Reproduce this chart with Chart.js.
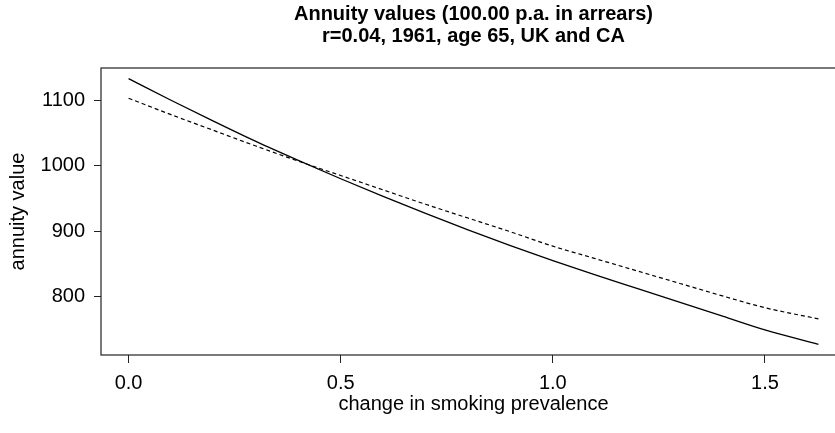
<!DOCTYPE html>
<html>
<head>
<meta charset="utf-8">
<script src="https://cdn.jsdelivr.net/npm/chart.js@4/dist/chart.umd.min.js"></script>
<style>
  html, body { margin: 0; padding: 0; background: #fff; overflow: hidden; width: 835px; height: 433px; }
  #wrap { width: 850px; height: 433px; }
</style>
</head>
<body>
<div id="wrap"><canvas id="c" width="850" height="433"></canvas></div>
<script>
// Change in smoking prevalence (x) and annuity values for the two populations
const prevalence = [0, 0.1, 0.2, 0.3, 0.4, 0.5, 0.6, 0.7, 0.8, 0.9, 1.0, 1.1, 1.2, 1.3, 1.4, 1.5, 1.626];
const annuityUK  = [1133, 1100, 1068, 1037, 1008, 980, 953, 927, 902, 878, 855, 833, 812, 791, 770, 749, 727];
const annuityCA  = [1103, 1078, 1054, 1030, 1007, 985, 963, 941, 920, 899, 877, 858, 839, 820, 801, 783, 766];

const xTicks = [0, 0.5, 1.0, 1.5];
const yTicks = [800, 900, 1000, 1100];

const titleLines = ['Annuity values (100.00 p.a. in arrears)', 'r=0.04, 1961, age 65, UK and CA'];
const xTitle = 'change in smoking prevalence';
const yTitle = 'annuity value';

const FONT = '"Liberation Sans", Arial, Helvetica, sans-serif';

function toPoints(xs, ys) { return xs.map((x, i) => ({ x: x, y: ys[i] })); }

// Frame around the plotting region plus the centred two-line heading
const framePlugin = {
  id: 'frame',
  afterDraw(chart) {
    const { ctx, chartArea: a } = chart;
    ctx.save();
    ctx.strokeStyle = '#222';
    ctx.lineWidth = 1.2;
    ctx.strokeRect(a.left, a.top, a.right - a.left, a.bottom - a.top);
    ctx.fillStyle = '#000';
    ctx.font = 'bold 20px ' + FONT;
    ctx.textAlign = 'center';
    ctx.textBaseline = 'middle';
    const cx = (a.left + a.right) / 2;
    titleLines.forEach((t, i) => ctx.fillText(t, cx, 14 + i * 22));
    ctx.restore();
  }
};

new Chart(document.getElementById('c'), {
  type: 'line',
  data: {
    datasets: [
      {
        data: toPoints(prevalence, annuityUK),
        borderColor: '#000',
        borderWidth: 1.3,
        pointRadius: 0,
        tension: 0.3,
        cubicInterpolationMode: 'monotone',
        fill: false
      },
      {
        data: toPoints(prevalence, annuityCA),
        borderColor: '#000',
        borderWidth: 1.2,
        borderDash: [4, 3],
        pointRadius: 0,
        tension: 0.3,
        cubicInterpolationMode: 'monotone',
        fill: false
      }
    ]
  },
  options: {
    responsive: false,
    animation: false,
    layout: { padding: { top: 68, right: 4, left: 0, bottom: 0 } },
    plugins: { legend: { display: false }, tooltip: { enabled: false }, title: { display: false } },
    scales: {
      x: {
        type: 'linear',
        min: -0.065,
        max: 1.691,
        afterBuildTicks(scale) { scale.ticks = xTicks.map(v => ({ value: v })); },
        afterFit(scale) { scale.height = 78; },
        border: { display: false },
        grid: { drawOnChartArea: false, drawTicks: true, tickLength: 8, color: '#222', lineWidth: 1 },
        ticks: {
          color: '#000',
          padding: 8,
          font: { family: FONT, size: 20 },
          callback: v => Number(v).toFixed(1),
          maxRotation: 0
        },
        title: {
          display: true,
          text: xTitle,
          color: '#000',
          font: { family: FONT, size: 20 },
          padding: { top: 0, bottom: 17 }
        }
      },
      y: {
        type: 'linear',
        min: 710.76,
        max: 1149.24,
        afterBuildTicks(scale) { scale.ticks = yTicks.map(v => ({ value: v })); },
        afterFit(scale) { scale.width = 101; },
        border: { display: false },
        grid: { drawOnChartArea: false, drawTicks: true, tickLength: 7, color: '#222', lineWidth: 1 },
        ticks: {
          color: '#000',
          padding: 9,
          font: { family: FONT, size: 20 },
          callback: v => String(v)
        },
        title: {
          display: true,
          text: yTitle,
          color: '#000',
          font: { family: FONT, size: 20 },
          padding: { top: 6, bottom: 0 }
        }
      }
    }
  },
  plugins: [framePlugin]
});
</script>
</body>
</html>
